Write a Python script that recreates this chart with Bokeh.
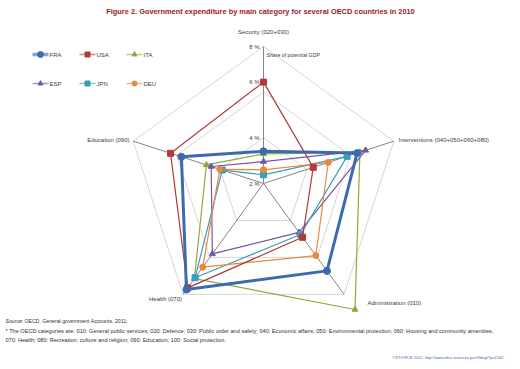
import numpy as np
from bokeh.plotting import figure
from bokeh.models import Range1d
from bokeh.core.properties import value
from bokeh.embed import file_html
from bokeh.resources import INLINE

# ---------------- data ----------------
categories = ["Security (020+030)", "Interventions (040+050+060+080)",
              "Administration (010)", "Health (070)", "Education (090)"]
countries = ["FRA", "USA", "ITA", "ESP", "JPN", "DEU"]
FRA = [3.41, 6.31, 6.73, 7.74, 5.78]
USA = [6.44, 4.29, 4.91, 7.65, 6.28]
ITA = [3.30, 6.44, 8.82, 7.15, 4.63]
ESP = [2.96, 6.70, 4.65, 5.81, 4.41]
JPN = [2.38, 5.85, 4.76, 7.10, 3.90]
DEU = [2.60, 4.98, 5.90, 6.53, 4.01]
ticks = [2, 4, 6, 8]
tick_labels = ["2 %", "4 %", "6 %", "8 %"]
title_text = "Figure 2. Government expenditure by main category for several OECD countries in 2010"
unit_text = "Share of potential GDP"
source_rest = " : OECD,  General government Accounts, 2011;"
note1 = ("* The OECD categories are: 010: General public services; 020: Defence; 030: Public order and safety; "
         "040: Economic affairs; 050: Environmental protection; 060: Housing and community amenities;")
note2 = "070: Health; 080: Recreation; culture and religion; 090: Education; 100: Social protection."
credit = "\u00a9XT/OFCE 2012, http://www.ofce.sciences-po.fr/blog/?p=1542"

series = {"FRA": FRA, "USA": USA, "ITA": ITA, "ESP": ESP, "JPN": JPN, "DEU": DEU}

# ---------------- style ----------------
styles = {
    "FRA": dict(color="#3B6BAE", lw=3.0, marker="circle", size=7),
    "USA": dict(color="#B23A3A", lw=1.2, marker="square", size=6),
    "ITA": dict(color="#8CAB3F", lw=1.2, marker="triangle", size=6),
    "ESP": dict(color="#7457A4", lw=1.2, marker="triangle", size=6),
    "JPN": dict(color="#3A9DBB", lw=1.2, marker="square", size=6),
    "DEU": dict(color="#E8883A", lw=1.2, marker="circle", size=6),
}
FONT = "Liberation Sans"
TXT = "#404040"

W, H = 512, 361
p = figure(width=W, height=H, output_backend="svg", toolbar_location=None,
           x_range=Range1d(0, W), y_range=Range1d(H, 0),
           min_border=0)
p.axis.visible = False
p.grid.visible = False
p.outline_line_color = None
p.background_fill_color = "white"

cx, cy, R = 263.0, 183.0, 137.0
vmin, vmax = ticks[0], ticks[-1]
n = len(categories)
ang = np.deg2rad(90 - 72 * np.arange(n))


def pos(vals):
    r = (np.asarray(vals, dtype=float) - vmin) / (vmax - vmin) * R
    return cx + r * np.cos(ang), cy - r * np.sin(ang)


# rings
for t in ticks[1:]:
    xs, ys = pos([t] * n)
    p.line(list(xs) + [xs[0]], list(ys) + [ys[0]], line_color="#D6D6D6", line_width=1)
# spokes
xo, yo = pos([vmax] * n)
p.segment(x0=[cx] * n, y0=[cy] * n, x1=list(xo), y1=list(yo), line_color="#858585", line_width=1)

# tick labels
lab_off = {"6 %": -10}
for t, lab in zip(ticks, tick_labels):
    r = (t - vmin) / (vmax - vmin) * R
    p.text(x=[cx - 4], y=[cy - r + lab_off.get(lab, 0)], text=[lab], text_align="right",
           text_baseline="middle", text_font=value(FONT), text_font_size="6px", text_color=TXT)
p.text(x=[cx + 3], y=[cy - R + 8], text=[unit_text], text_align="left", text_baseline="middle",
       text_font=value(FONT), text_font_size="5.2px", text_color=TXT)

# category labels
cat_pos = [(cx, cy - R - 15, "center"), (398, 139, "left"), (367, 302, "left"),
           (165, 298, "center"), (129, 139, "right")]
for c, (x, y, al) in zip(categories, cat_pos):
    p.text(x=[x], y=[y], text=[c], text_align=al, text_baseline="middle",
           text_font=value(FONT), text_font_size="6px", text_color=TXT)

# series (draw FRA last to be on top)
order = ["ITA", "ESP", "JPN", "DEU", "USA", "FRA"]
for k in order:
    st = styles[k]
    xs, ys = pos(series[k])
    p.line(list(xs) + [xs[0]], list(ys) + [ys[0]], line_color=st["color"], line_width=st["lw"])
    p.scatter(list(xs), list(ys), marker=st["marker"], size=st["size"],
              fill_color=st["color"], line_color=st["color"])

# legend
leg_x = [40, 87, 134]
leg_y = [54, 83]
for i, k in enumerate(countries):
    st = styles[k]
    x = leg_x[i % 3]
    y = leg_y[i // 3]
    p.line([x - 8, x + 8], [y, y], line_color=st["color"], line_width=st["lw"] + 0.5, line_alpha=0.6)
    p.scatter([x], [y], marker=st["marker"], size=st["size"] - 1, fill_color=st["color"], line_color=st["color"])
    p.text(x=[x + 9], y=[y], text=[k], text_align="left", text_baseline="middle",
           text_font=value(FONT), text_font_size="6px", text_color=TXT)

# title
p.text(x=[260], y=[11], text=[title_text], text_align="center", text_baseline="middle",
       text_font=value(FONT), text_font_size="7.4px", text_font_style="bold", text_color="#9A1B2E")

# footer
p.text(x=[5], y=[320], text=["Source"], text_align="left", text_baseline="middle",
       text_font=value(FONT), text_font_size="5.2px", text_font_style="italic", text_color="#303030")
p.text(x=[21], y=[320], text=[source_rest], text_align="left", text_baseline="middle",
       text_font=value(FONT), text_font_size="5.2px", text_color="#303030")
p.text(x=[5, 5], y=[330, 339], text=[note1, note2], text_align="left", text_baseline="middle",
       text_font=value(FONT), text_font_size="5.6px", text_color="#303030")
p.text(x=[503], y=[357], text=[credit], text_align="right", text_baseline="middle",
       text_font=value(FONT), text_font_size="4px", text_color="#3A64B0")

open("out.html", "w").write(file_html(p, INLINE))
